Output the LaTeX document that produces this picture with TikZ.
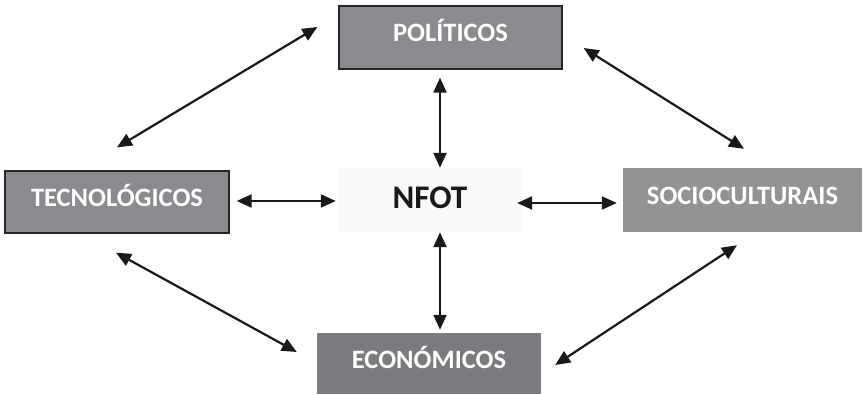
\documentclass[tikz,border=0pt]{standalone}
\usepackage{fontspec}
\setmainfont{Carlito}[BoldFont={Carlito Bold}]
\usetikzlibrary{arrows.meta}
\definecolor{boxgray}{HTML}{8B8B8F}
\definecolor{softgray}{HTML}{939396}
\definecolor{darkgray}{HTML}{7B7B7F}
\definecolor{paper}{HTML}{F9F9F9}

\begin{document}
\begin{tikzpicture}[x=1pt,y=-1pt,
   factor/.style={rectangle, fill=boxgray, text=white, font=\bfseries\fontsize{26.5}{30}\selectfont, inner sep=0pt, text height=17pt, text depth=8pt},
   link/.style={{Triangle[length=15pt,width=13pt]}-{Triangle[length=15pt,width=13pt]}, line width=2.2pt, black!90}]
  \useasboundingbox (0,0) rectangle (866,395);
  \node[factor, draw=black!85, line width=1.3pt, minimum width=223pt, minimum height=63pt] (pol) at (450.5,37.5) {POLÍTICOS};
  \node[factor, draw=black!85, line width=1.3pt, minimum width=224pt, minimum height=62pt] (tec) at (117,202) {TECNOLÓGICOS};
  \node[factor, fill=softgray, minimum width=239pt, minimum height=64pt] (soc) at (742.5,200) {SOCIOCULTURAIS};
  \node[factor, fill=darkgray, minimum width=224pt, minimum height=61pt] (eco) at (429,363.5) {ECONÓMICOS};
  \node[factor, fill=paper, text=black!90, font=\bfseries\fontsize{33}{38}\selectfont, text height=21pt, text depth=3pt, minimum width=184pt, minimum height=64pt] (nfot) at (430,200) {NFOT};
  % central links
  \draw[link] ([xshift=-10.5pt,yshift=-8pt]pol.south) -- ([xshift=10pt]nfot.north);
  \draw[link] ([xshift=10pt]nfot.south) -- ([xshift=11pt,yshift=3pt]eco.north);
  \draw[link] ([xshift=7pt,yshift=1pt]tec.east) -- ([xshift=-2pt,yshift=-1pt]nfot.west);
  \draw[link] ([xshift=-5pt,yshift=-3pt]nfot.east) -- ([xshift=-6pt,yshift=-3pt]soc.west);
  % outer links
  \draw[link] ([yshift=23pt]tec.north) -- ([xshift=-21pt,yshift=10.5pt]pol.west);
  \draw[link] ([xshift=21pt,yshift=-10.5pt]pol.east) -- ([xshift=1.5pt,yshift=19pt]soc.north);
  \draw[link] ([xshift=-1pt,yshift=-19pt]tec.south) -- ([xshift=-20pt,yshift=11.5pt]eco.west);
  \draw[link] ([xshift=14pt,yshift=-1.5pt]eco.east) -- ([xshift=-5.5pt,yshift=-13pt]soc.south);
\end{tikzpicture}
\end{document}
